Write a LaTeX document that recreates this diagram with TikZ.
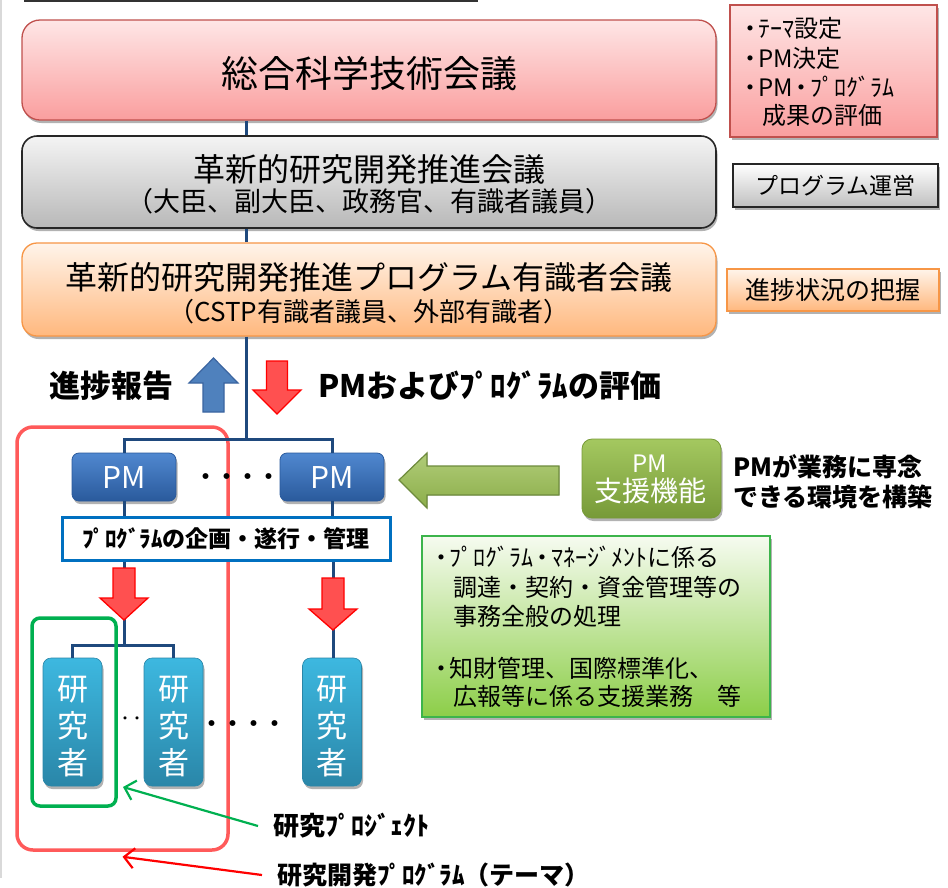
\documentclass[tikz,border=0pt]{standalone}
\usepackage{fontspec}
\setmainfont{Noto Sans CJK JP}
\usetikzlibrary{shadows,arrows.meta}
\newcommand{\myfs}[1]{\fontsize{#1}{#1}\selectfont}
\newcommand{\bul}{・\kern-4pt}
\definecolor{navy}{HTML}{1F497D}
\definecolor{pinkT}{HTML}{FEE6E6}
\definecolor{pinkB}{HTML}{FA9E9E}
\definecolor{pinkD}{HTML}{C0504D}
\definecolor{grayT}{HTML}{F4F4F4}
\definecolor{grayB}{HTML}{B8B8B8}
\definecolor{orT}{HTML}{FFF4EA}
\definecolor{orB}{HTML}{FFB87E}
\definecolor{orD}{HTML}{F79646}
\definecolor{pmT}{HTML}{5088D0}
\definecolor{pmB}{HTML}{2A5A9C}
\definecolor{rsT}{HTML}{3DB8E0}
\definecolor{rsB}{HTML}{2A86A8}
\definecolor{gaT}{HTML}{B0CC78}
\definecolor{gaB}{HTML}{8CAE4A}
\definecolor{gaD}{HTML}{6E8B3D}
\definecolor{supT}{HTML}{A4C860}
\definecolor{supB}{HTML}{779A38}
\definecolor{infT}{HTML}{F6FBF0}
\definecolor{infB}{HTML}{8CCE48}
\definecolor{infD}{HTML}{3CB44B}
\definecolor{mgD}{HTML}{0070C0}
\definecolor{prgR}{HTML}{FF5A5A}
\definecolor{prjG}{HTML}{00B050}
\definecolor{arR}{HTML}{FF5050}
\definecolor{arRD}{HTML}{FF0000}
\definecolor{arB}{HTML}{4F81BD}
\definecolor{arBD}{HTML}{3A64A0}
\begin{document}
\begin{tikzpicture}[x=1pt,y=-1pt,
  topbox/.style={draw, line width=1.3pt, inner sep=0pt},
  shd/.style={drop shadow={shadow xshift=1.5pt,shadow yshift=-3pt,opacity=0.3,fill=black}},
  lbl/.style={inner sep=0pt, text=black},
  tree/.style={draw=navy, line width=3pt},
  pmbox/.style={topbox, shd, draw=pmB, line width=0.8pt, top color=pmT, bottom color=pmB, rounded corners=7pt, minimum width=104pt, minimum height=48pt, text=white},
  rsbox/.style={topbox, shd, draw=rsB, line width=0.6pt, top color=rsT, bottom color=rsB, rounded corners=8pt, minimum width=59pt, minimum height=128pt},
  rstext/.style={inner sep=0pt, text=white, align=center, font=\fontsize{31}{37}\selectfont},
  redarr/.style={fill=arR, draw=arRD, line width=1.3pt, line join=miter},
  labarr/.style={line width=2.2pt, -{Straight Barb[length=10pt,width=20pt]}},
]
\fill[white] (0,0) rectangle (948,887);
\useasboundingbox (0,0) rectangle (948,887);
\fill[black!80] (24,0) rectangle (478,2);
\draw[black!15, line width=1.5pt] (1,0) -- (1,878);

% program frame (under everything)
\node[topbox, draw=prgR, line width=3.5pt, rounded corners=16pt, minimum width=211pt, minimum height=423pt] (prog) at (122.5,638.5) {};

% top boxes
\node[topbox, shd, draw=pinkD, top color=pinkT, bottom color=pinkB, rounded corners=18pt, minimum width=694pt, minimum height=100pt] (c1) at (369,70) {};
\node[lbl] (c1t) at (369,73) {\myfs{37}総合科学技術会議};

\node[topbox, shd, draw=black!85, line width=1.6pt, top color=grayT, bottom color=grayB, rounded corners=15pt, minimum width=694pt, minimum height=92pt] (c2) at (369,182) {};
\node[lbl] (c2a) at (369,169) {\myfs{32}革新的研究開発推進会議};
\node[lbl] (c2b) at (369,201) {\myfs{27}（大臣、副大臣、政務官、有識者議員）};

\node[topbox, shd, draw=orD, top color=orT, bottom color=orB, rounded corners=15pt, minimum width=694pt, minimum height=93pt] (c3) at (369,289.5) {};
\node[lbl] (c3a) at (369,277) {\myfs{32}革新的研究開発推進プログラム有識者会議};
\node[lbl] (c3b) at (369,312) {\myfs{26}（CSTP有識者議員、外部有識者）};

% right side boxes
\node[topbox, shd, draw=pinkD, top color=pinkT, bottom color=pinkB, minimum width=207pt, minimum height=132pt] (r1) at (833.5,71) {};
\node[lbl, anchor=west] (r1a) at (738,28) {\myfs{24}\bul ﾃｰﾏ設定};
\node[lbl, anchor=west] (r1b) at (738,58) {\myfs{24}\bul PM決定};
\node[lbl, anchor=west] (r1c) at (738,87) {\myfs{24}\bul PM\kern-3pt・\kern-3pt ﾌﾟﾛｸﾞﾗﾑ};
\node[lbl, anchor=west] (r1d) at (762,115) {\myfs{24}成果の評価};

\node[topbox, shd, draw=black!85, line width=1.8pt, top color=white, bottom color=black!25, minimum width=205pt, minimum height=43pt] (r2) at (835.5,185.5) {\myfs{23}プログラム運営};
\node[topbox, shd, draw=orD, top color=orT, bottom color=orB, minimum width=212pt, minimum height=42pt] (r3) at (833,290) {\myfs{25}進捗状況の把握};

% spine
\coordinate (sp) at (246,439);
\draw[tree] (c1.south -| sp) -- (c2.north -| sp);
\draw[tree] (c2.south -| sp) -- (c3.north -| sp);
\draw[tree] (c3.south -| sp) -- (sp);

% report / evaluation arrows
\filldraw[fill=arB, draw=arBD, line width=1.2pt, line join=miter] (213.5,358) -- (238,383) -- (224,383) -- (224,412) -- (203,412) -- (203,383) -- (189,383) -- cycle;
\filldraw[redarr] (266.5,361) -- (287.5,361) -- (287.5,390) -- (301,390) -- (277,414) -- (253,390) -- (266.5,390) -- cycle;
\node[lbl] (rep) at (111,386) {\myfs{31}\bfseries 進捗報告};
\node[lbl, anchor=west] (evl) at (318,386) {\myfs{31}\bfseries PMおよびﾌﾟﾛｸﾞﾗﾑの評価};

% PMs
\node[pmbox] (pm1) at (124,477) {\myfs{30}PM};
\node[pmbox] (pm2) at (332,477) {\myfs{30}PM};
\draw[tree] (pm1.north) -- (pm1.north |- sp) -- (pm2.north |- sp) -- (pm2.north);
\node[lbl] (pmdots) at (237,479) {\myfs{21}\bfseries ・・・・};

% management box
\node[topbox, draw=mgD, line width=3pt, fill=white, minimum width=328pt, minimum height=43pt] (mg) at (226,538.5) {\myfs{23}\bfseries ﾌﾟﾛｸﾞﾗﾑの企画・遂行・管理};
\draw[tree] (pm1.south) -- (pm1.south |- mg.north);
\draw[tree] (pm2.south) -- (pm2.south |- mg.north);

% support
\filldraw[top color=gaT, bottom color=gaB, draw=gaD, line width=1.2pt, line join=miter] (399,480) -- (427,453) -- (427,466) -- (559,466) -- (559,495) -- (427,495) -- (427,508) -- cycle;
\node[topbox, shd, draw=supB, line width=0.8pt, top color=supT, bottom color=supB, rounded corners=10pt, minimum width=139pt, minimum height=79pt] (sup) at (651.5,478.5) {};
\node[lbl, text=white] (supa) at (650,464) {\myfs{24}PM};
\node[lbl, text=white] (supb) at (650,491) {\myfs{28}支援機能};
\node[lbl, anchor=west] (supc) at (733,467) {\myfs{25}\bfseries PMが業務に専念};
\node[lbl, anchor=west] (supd) at (733,497) {\myfs{25}\bfseries できる環境を構築};

% info box
\node[topbox, shd, draw=infD, line width=1.3pt, top color=infT, bottom color=infB, minimum width=348pt, minimum height=181pt] (inf) at (596,626.5) {};
\node[lbl, anchor=west] (i1) at (429,557) {\myfs{24}\bul ﾌﾟﾛｸﾞﾗﾑ\kern-3pt・\kern-3pt ﾏﾈｰｼﾞﾒﾝﾄに係る};
\node[lbl, anchor=west] (i2) at (453,587) {\myfs{24}調達・契約・資金管理等の};
\node[lbl, anchor=west] (i3) at (453,616) {\myfs{24}事務全般の処理};
\node[lbl, anchor=west] (i4) at (429,668) {\myfs{24}\bul 知財管理、国際標準化、};
\node[lbl, anchor=west] (i5) at (453,696) {\myfs{24}広報等に係る支援業務　等};

% researchers
\node[rsbox] (rs1) at (72.5,722) {};
\node[rsbox] (rs2) at (173.5,722) {};
\node[rsbox] (rs3) at (332,722) {};
\node[rstext] (rs1t) at (72.5,727) {研\\究\\者};
\node[rstext] (rs2t) at (173.5,727) {研\\究\\者};
\node[rstext] (rs3t) at (332,727) {研\\究\\者};

\coordinate (j1) at (124,645);
\draw[tree] (mg.south -| j1) -- (j1);
\draw[tree] (rs1.north) -- (rs1.north |- j1) -- (rs2.north |- j1) -- (rs2.north);
\draw[tree] (mg.south -| 333,0) -- (rs3.north -| 333,0);
\filldraw[redarr] (113,568) -- (135,568) -- (135,598) -- (148,598) -- (124,620) -- (100,598) -- (113,598) -- cycle;
\filldraw[redarr] (322,578) -- (344,578) -- (344,609) -- (357,609) -- (333,630) -- (309,609) -- (322,609) -- cycle;

\node[lbl] (rdots1) at (131,722) {\myfs{24}‥};
\node[lbl] (rdots2) at (243,726) {\myfs{21}\bfseries ・・・・};

% project frame
\node[topbox, draw=prjG, line width=3.5pt, rounded corners=8pt, minimum width=84pt, minimum height=188pt] (prj) at (74,712) {};

% labels
\node[lbl, anchor=west] (lab1) at (273,826) {\myfs{26}\bfseries 研究ﾌﾟﾛｼﾞｪｸﾄ};
\coordinate (t1) at (123,787);
\draw[labarr, prjG] ([xshift=-15pt]lab1.west) -- (t1);
\node[lbl, anchor=west] (lab2) at (277,875) {\myfs{25}\bfseries 研究開発ﾌﾟﾛｸﾞﾗﾑ（テーマ）};
\draw[labarr, arRD] ([xshift=-15pt]lab2.west) -- ([yshift=-5pt]prog.south);
\end{tikzpicture}
\end{document}
